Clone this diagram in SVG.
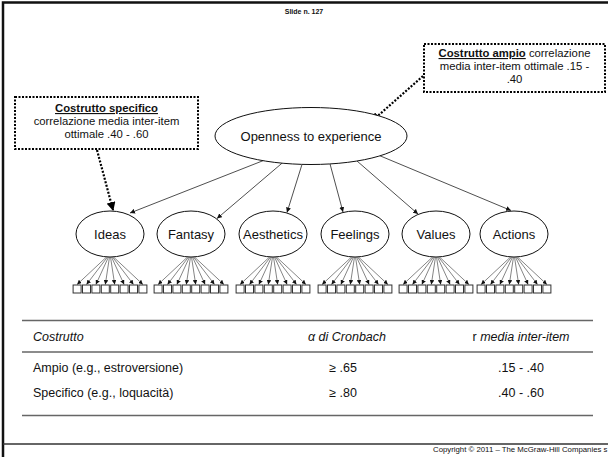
<svg xmlns="http://www.w3.org/2000/svg" xmlns:xlink="http://www.w3.org/1999/xlink" width="608" height="457" viewBox="0 0 608 457">
  <style>
    text { font-family: "Liberation Sans", Arial, sans-serif; fill: #111; }
    .frame { stroke: #111; stroke-width: 2.5; fill: none; }
    .footline { stroke: #333; stroke-width: 1.5; fill: none; }
    .node { fill: #fff; stroke: #111; stroke-width: 1; }
    .lbl { font-size: 13px; text-anchor: middle; }
    .note { fill: #fff; stroke: #000; stroke-width: 2; stroke-dasharray: 2 1.5; }
    .notetxt { font-size: 11.3px; text-anchor: middle; }
    .path { stroke: #222; stroke-width: 0.8; fill: none; marker-end: url(#tip); }
    .load { stroke: #333; stroke-width: 0.6; fill: none; marker-end: url(#tipS); }
    .item { fill: #fff; stroke: #333; stroke-width: 1; }
    .dots { stroke: #000; stroke-width: 2.2; stroke-dasharray: 2 1.6; fill: none; marker-end: url(#tipB); }
    .rule { stroke: #666; stroke-width: 1.5; }
    .tbl { font-size: 12.5px; }
  </style>
  <defs>
    <marker id="tip" viewBox="0 0 6 6" refX="6" refY="3" markerWidth="5" markerHeight="5" markerUnits="userSpaceOnUse" orient="auto">
      <path d="M0,0 L6,3 L0,6 z" fill="#111"/>
    </marker>
    <marker id="tipS" viewBox="0 0 6 6" refX="6" refY="3" markerWidth="4.5" markerHeight="4.5" markerUnits="userSpaceOnUse" orient="auto">
      <path d="M0,0 L6,3 L0,6 z" fill="#111"/>
    </marker>
    <marker id="tipB" viewBox="0 0 8 8" refX="7" refY="4" markerWidth="9" markerHeight="9" markerUnits="userSpaceOnUse" orient="auto">
      <path d="M0,0 L8,4 L0,8 z" fill="#000"/>
    </marker>
    <!-- eight indicator items fanned out under a facet, drawn around x = 0 -->
    <g id="fan">
      <line class="load" x1="-3.5" y1="257" x2="-32.9" y2="284.5"/>
      <line class="load" x1="-2.5" y1="257" x2="-23.5" y2="284.5"/>
      <line class="load" x1="-1.5" y1="257" x2="-14.1" y2="284.5"/>
      <line class="load" x1="-0.5" y1="257" x2="-4.7" y2="284.5"/>
      <line class="load" x1="0.5" y1="257" x2="4.7" y2="284.5"/>
      <line class="load" x1="1.5" y1="257" x2="14.1" y2="284.5"/>
      <line class="load" x1="2.5" y1="257" x2="23.5" y2="284.5"/>
      <line class="load" x1="3.5" y1="257" x2="32.9" y2="284.5"/>
      <rect class="item" x="-36.9" y="285" width="8" height="8"/>
      <rect class="item" x="-27.5" y="285" width="8" height="8"/>
      <rect class="item" x="-18.1" y="285" width="8" height="8"/>
      <rect class="item" x="-8.7" y="285" width="8" height="8"/>
      <rect class="item" x="0.7" y="285" width="8" height="8"/>
      <rect class="item" x="10.1" y="285" width="8" height="8"/>
      <rect class="item" x="19.5" y="285" width="8" height="8"/>
      <rect class="item" x="28.9" y="285" width="8" height="8"/>
    </g>
  </defs>

  <rect width="608" height="457" fill="#fff"/>

  <!-- slide frame -->
  <g id="frame">
    <polyline class="frame" points="608,2.5 3,2.5 3,457"/>
    <line class="footline" x1="3" y1="444" x2="608" y2="444"/>
    <text x="304" y="14" font-size="7" font-weight="bold" text-anchor="middle">Slide n. 127</text>
    <text x="433" y="452" font-size="7.8">Copyright © 2011 – The McGraw-Hill Companies s</text>
  </g>

  <!-- structural paths and callout pointers -->
  <g id="connectors">
    <line class="path" x1="263" y1="160.7" x2="130" y2="213"/>
    <line class="path" x1="282" y1="163.2" x2="217" y2="218.5"/>
    <line class="path" x1="302" y1="164.4" x2="287" y2="212.5"/>
    <line class="path" x1="330" y1="163.9" x2="343" y2="212"/>
    <line class="path" x1="357" y1="161" x2="418" y2="214"/>
    <line class="path" x1="380" y1="155.8" x2="511" y2="210.5"/>
    <line class="dots" x1="97" y1="150" x2="113" y2="210"/>
    <line class="dots" x1="423" y1="76" x2="372" y2="121"/>
  </g>

  <g id="openness">
    <ellipse class="node" cx="311" cy="136" rx="96" ry="28.5"/>
    <text class="lbl" x="311" y="141">Openness to experience</text>
  </g>

  <g id="ideas">
    <ellipse class="node" cx="110" cy="234" rx="34" ry="23"/>
    <text class="lbl" x="110" y="239">Ideas</text>
    <use xlink:href="#fan" x="110"/>
  </g>
  <g id="fantasy">
    <ellipse class="node" cx="191" cy="234" rx="34" ry="23"/>
    <text class="lbl" x="191" y="239">Fantasy</text>
    <use xlink:href="#fan" x="191"/>
  </g>
  <g id="aesthetics">
    <ellipse class="node" cx="273" cy="234" rx="34" ry="23"/>
    <text class="lbl" x="273" y="239">Aesthetics</text>
    <use xlink:href="#fan" x="273"/>
  </g>
  <g id="feelings">
    <ellipse class="node" cx="355" cy="234" rx="34" ry="23"/>
    <text class="lbl" x="355" y="239">Feelings</text>
    <use xlink:href="#fan" x="355"/>
  </g>
  <g id="values">
    <ellipse class="node" cx="436" cy="234" rx="34" ry="23"/>
    <text class="lbl" x="436" y="239">Values</text>
    <use xlink:href="#fan" x="436"/>
  </g>
  <g id="actions">
    <ellipse class="node" cx="514" cy="234" rx="34" ry="23"/>
    <text class="lbl" x="514" y="239">Actions</text>
    <use xlink:href="#fan" x="514"/>
  </g>

  <!-- callout: specific construct -->
  <g id="note-specifico">
    <rect class="note" x="15" y="97" width="183" height="52"/>
    <text class="notetxt" x="106.5" y="112" font-weight="bold" text-decoration="underline">Costrutto specifico</text>
    <text class="notetxt" x="106.5" y="125">correlazione media inter-item</text>
    <text class="notetxt" x="106.5" y="138">ottimale .40 - .60</text>
  </g>

  <!-- callout: broad construct -->
  <g id="note-ampio">
    <rect class="note" x="424" y="44" width="181" height="48"/>
    <text class="notetxt" x="514.5" y="57"><tspan font-weight="bold" text-decoration="underline">Costrutto ampio</tspan> correlazione</text>
    <text class="notetxt" x="514.5" y="70">media inter-item ottimale .15 -</text>
    <text class="notetxt" x="514.5" y="83">.40</text>
  </g>

  <!-- reliability table -->
  <g id="table">
    <line class="rule" x1="22" y1="320.5" x2="593" y2="320.5"/>
    <line class="rule" x1="22" y1="352" x2="593" y2="352"/>
    <line class="rule" x1="22" y1="415.5" x2="593" y2="415.5"/>
    <text class="tbl" x="33" y="341" font-style="italic">Costrutto</text>
    <text class="tbl" x="347" y="341" text-anchor="middle" font-style="italic">α di Cronbach</text>
    <text class="tbl" x="521" y="341" text-anchor="middle"><tspan>r</tspan><tspan font-style="italic"> media inter-item</tspan></text>
    <text class="tbl" x="33" y="372">Ampio (e.g., estroversione)</text>
    <text class="tbl" x="343" y="372" text-anchor="middle">≥ .65</text>
    <text class="tbl" x="521" y="372" text-anchor="middle">.15 - .40</text>
    <text class="tbl" x="33" y="397">Specifico (e.g., loquacità)</text>
    <text class="tbl" x="343" y="397" text-anchor="middle">≥ .80</text>
    <text class="tbl" x="521" y="397" text-anchor="middle">.40 - .60</text>
  </g>
</svg>
